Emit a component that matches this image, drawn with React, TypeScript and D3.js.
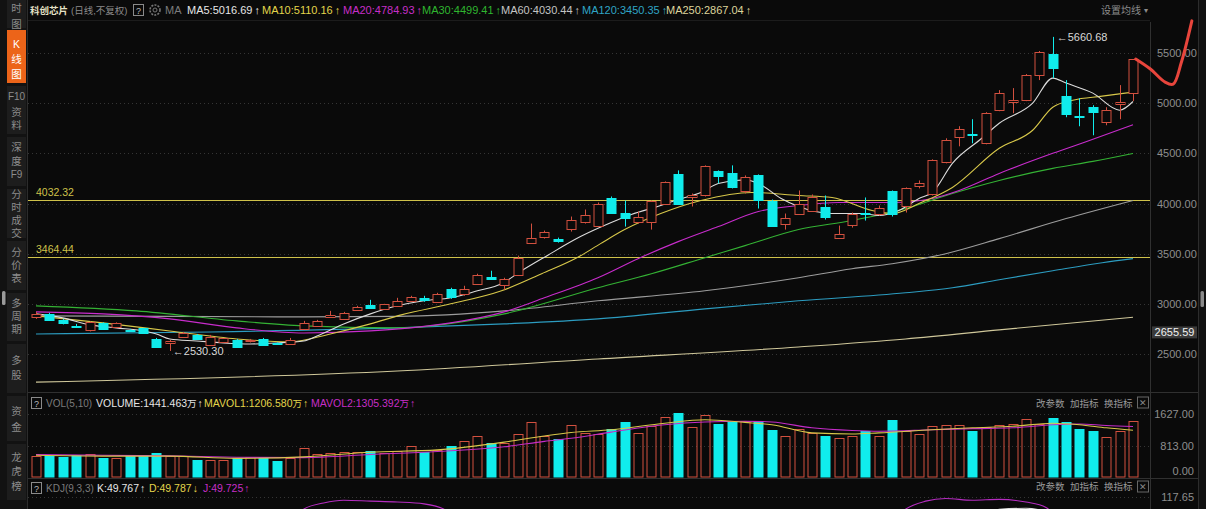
import React from "react";
import * as d3 from "d3";

const WIDTH = 1206;
const HEIGHT = 509;

const stockName = "科创芯片";
const periodNote = "(日线,不复权)";

// daily bars, oldest first
const opens = [
  2870, 2895, 2840, 2780, 2740, 2810, 2770, 2740, 2755, 2650, 2605, 2665, 2690, 2590, 2615, 2640, 2625, 2650, 2610, 2600,
  2750, 2780, 2870, 2850, 2940, 2990, 2950, 2980, 3030, 3060, 3020, 3150, 3100, 3200, 3270, 3190, 3290, 3610, 3670, 3650,
  3750, 3820, 3780, 4050, 3910, 3820, 3820, 4000, 4290, 4060, 4080, 4320, 4300, 4120, 4280, 4020, 3800, 3900, 3930, 3970,
  3660, 3790, 3910, 3900, 4120, 3980, 4170, 4090, 4410, 4660, 4690, 4600, 4930, 5010, 5030, 5280, 5490, 5070, 4870, 4960,
  4810, 4990, 5100,
];
const highs = [
  2920, 2910, 2850, 2800, 2825, 2815, 2815, 2750, 2760, 2660, 2640, 2720, 2700, 2690, 2660, 2650, 2650, 2660, 2615, 2660,
  2830, 2840, 2930, 2920, 2980, 3040, 3000, 3060, 3080, 3080, 3110, 3160, 3180, 3300, 3330, 3260, 3480, 3800, 3730, 3660,
  3870, 3940, 4010, 4070, 4030, 3920, 4030, 4220, 4330, 4100, 4380, 4330, 4380, 4280, 4290, 4040, 3900, 4130, 4090, 4080,
  3780, 3910, 4060, 3980, 4130, 4160, 4230, 4440, 4650, 4770, 4840, 4910, 5130, 5150, 5290, 5520, 5660.68, 5230, 5050, 4980,
  4960, 5180, 5440,
];
const lows = [
  2850, 2830, 2795, 2760, 2725, 2745, 2765, 2720, 2700, 2565, 2530.3, 2660, 2645, 2585, 2610, 2560, 2615, 2580, 2595, 2595,
  2745, 2775, 2865, 2845, 2930, 2955, 2945, 2975, 3025, 3020, 3010, 3050, 3080, 3190, 3240, 3140, 3280, 3600, 3650, 3610,
  3720, 3800, 3770, 3900, 3770, 3800, 3740, 3990, 3990, 3970, 4070, 4200, 4150, 4100, 3950, 3770, 3740, 3890, 3920, 3840,
  3650, 3760, 3830, 3880, 3870, 3910, 4150, 4080, 4400, 4570, 4600, 4590, 4920, 4900, 5020, 5230, 5250, 4860, 4770, 4680,
  4780, 4840, 5020,
];
const closes = [
  2900, 2840, 2805, 2765, 2820, 2750, 2805, 2725, 2705, 2570, 2630, 2710, 2650, 2670, 2655, 2570, 2640, 2590, 2600, 2640,
  2810, 2830, 2890, 2910, 2970, 2960, 2995, 3030, 3070, 3040, 3100, 3070, 3150, 3290, 3250, 3250, 3460, 3660, 3720, 3630,
  3840, 3890, 4000, 3910, 3860, 3870, 4020, 4210, 4000, 4080, 4370, 4270, 4160, 4260, 4030, 3780, 3860, 4000, 4060, 3870,
  3700, 3900, 3895, 3960, 3900, 4150, 4200, 4430, 4630, 4740, 4680, 4900, 5100, 5030, 5280, 5510, 5350, 4890, 4860, 4910,
  4930, 5010, 5440,
];
// volume, 万手
const volumes = [
  540, 540, 510, 560, 600, 500, 500, 540, 580, 620, 540, 540, 450, 450, 450, 500, 510, 500, 410, 500,
  740, 600, 620, 640, 640, 670, 620, 670, 800, 640, 710, 800, 940, 1050, 880, 880, 1110, 1410, 1050, 970,
  1350, 1140, 1100, 1240, 1410, 1140, 1330, 1540, 1650, 1280, 1590, 1370, 1410, 1440, 1440, 1210, 1070, 1250, 1140, 1070,
  1010, 1050, 1180, 1070, 1480, 1180, 1100, 1310, 1350, 1350, 1180, 1280, 1350, 1370, 1510, 1370, 1520, 1420, 1240, 1180,
  1040, 1200, 1441.46,
];

type Knot = [number, number];

// moving averages as [bar index, value]
const ma5: Knot[] = [
  [0, 2900], [2, 2860], [4, 2790], [6, 2760], [8, 2730], [9, 2700], [10, 2650], [12, 2630], [14, 2610], [16, 2600],
  [18, 2610], [20, 2630], [21, 2680], [23, 2800], [25, 2900], [27, 2980], [29, 3030], [31, 3060], [33, 3130], [34.8, 3200],
  [36.3, 3330], [38.2, 3480], [40.7, 3670], [43, 3810], [44.5, 3890], [46.7, 3980], [48, 4040], [49.7, 4110], [51, 4200],
  [53, 4235], [54, 4200], [55.7, 4050], [57, 3970], [59.5, 3900], [61.7, 3900], [63, 3880], [64.5, 3930], [66, 4050],
  [67, 4110], [68.5, 4400], [70.7, 4650], [72, 4800], [74.5, 5000], [76, 5250], [77, 5200], [79, 5100], [81, 4930], [82, 5016.69],
];
const ma10: Knot[] = [
  [0, 2880], [5, 2810], [10, 2730], [15, 2650], [19, 2620], [22, 2700], [25, 2800], [27.3, 2890], [31, 3000], [34.8, 3130],
  [37.8, 3300], [40.5, 3464], [42.2, 3600], [44, 3740], [46.7, 3900], [49.7, 4030], [53.5, 4110], [57, 4080], [59.5, 4060],
  [62.5, 3930], [64, 3900], [66, 4000], [68.5, 4160], [72, 4550], [74.5, 4730], [76, 4960], [77.5, 5030], [79.7, 5070], [82, 5110.16],
];
const ma20: Knot[] = [
  [0, 2920], [5, 2900], [10, 2850], [15, 2760], [20, 2710], [25, 2730], [28, 2760], [31, 2810], [35, 2920], [38, 3060],
  [42, 3260], [45, 3450], [48, 3620], [51, 3770], [54, 3920], [57, 3980], [60, 4010], [64, 4010], [67, 4050], [69, 4130],
  [72, 4300], [76, 4500], [79, 4640], [82, 4784.93],
];
const ma30: Knot[] = [
  [0, 2980], [7.5, 2930], [15, 2830], [20, 2780], [27, 2760], [35, 2900], [42, 3160], [46, 3300], [50, 3460], [53, 3580],
  [57, 3740], [61, 3830], [65, 3950], [68.5, 4100], [72, 4230], [76, 4350], [79, 4420], [82, 4499.41],
];
const ma60: Knot[] = [
  [0, 2880], [10, 2875], [20, 2870], [27, 2875], [35, 2930], [42, 3030], [50, 3130], [57, 3260], [61, 3350], [64, 3400],
  [68, 3500], [72, 3650], [77, 3850], [82, 4030.44],
];
const ma120: Knot[] = [
  [0, 2700], [13, 2720], [27, 2760], [35, 2800], [42, 2850], [50, 2950], [57, 3030], [65, 3110], [68.5, 3160], [72, 3240],
  [76, 3330], [79.7, 3410], [82, 3450.35],
];
const ma250: Knot[] = [
  [0, 2220], [27, 2330], [42, 2450], [57, 2570], [65, 2650], [72, 2740], [82, 2867.04],
];

const mavol1: Knot[] = [
  [0, 560], [5, 540], [10, 540], [15, 480], [20, 520], [25, 640], [30, 700], [35, 900], [38, 1060], [40, 1150], [43, 1220],
  [47, 1390], [50, 1480], [53, 1410], [55, 1350], [58, 1140], [61, 1110], [63, 1140], [67, 1220], [70, 1270], [73, 1310],
  [76, 1390], [78, 1350], [80, 1270], [82, 1206.58],
];
const mavol2: Knot[] = [
  [0, 580], [5, 560], [10, 545], [15, 510], [20, 500], [25, 580], [30, 660], [35, 780], [38, 920], [40, 1000], [43, 1160],
  [47, 1350], [50, 1420], [53, 1440], [55, 1420], [58, 1270], [61, 1200], [63, 1180], [67, 1220], [70, 1250], [73, 1270],
  [76, 1350], [78, 1370], [80, 1330], [82, 1305.39],
];

// KDJ, only the tops of the curves reach into view
const kdjK: Knot[] = [[66, 70], [70, 92], [72, 104], [74, 105], [76, 98], [78, 75], [82, 49.77]];
const kdjJ: Knot[] = [
  [0, 40], [10, 35], [17, 60], [19, 90], [20, 104], [21.5, 111], [23, 114], [25, 113], [27, 112], [29, 110], [30.5, 104],
  [32, 85], [34, 70], [45, 50], [62, 60], [64, 90], [65, 104], [66.5, 113], [68, 116], [70, 114], [72, 115], [74, 112],
  [75.5, 106], [77, 80], [79, 50], [82, 49.73],
];

// hand-drawn forecast stroke beyond the last bar
const forecast: Knot[] = [[82.2, 5440], [83.3, 5340], [84.4, 5210], [85.0, 5190], [85.6, 5400], [86.4, 5820]];

const priceTicks = [5500, 5000, 4500, 4000, 3500, 3000, 2500];
const levelLines = [4032.32, 3464.44];
const lastPrice = 2655.59;
const volTicks = [1627, 813, 0];
const kdjTop = 117.65;
const highMark = { index: 76, value: 5660.68 };
const lowMark = { index: 10, value: 2530.3 };

const maHeader = [
  { label: "MA5:5016.69", color: "#e6e6e6", x: 187, knots: ma5, stroke: "#dcdcdc" },
  { label: "MA10:5110.16", color: "#e3d54a", x: 262, knots: ma10, stroke: "#d8c84a" },
  { label: "MA20:4784.93", color: "#c72ec7", x: 343, knots: ma20, stroke: "#c82ccc" },
  { label: "MA30:4499.41", color: "#2fb52f", x: 422, knots: ma30, stroke: "#34b234" },
  { label: "MA60:4030.44", color: "#c4c4c4", x: 501, knots: ma60, stroke: "#9c9c9c" },
  { label: "MA120:3450.35", color: "#2fa5c5", x: 582, knots: ma120, stroke: "#2c9cc0" },
  { label: "MA250:2867.04", color: "#ddd59c", x: 666, knots: ma250, stroke: "#cfc79a" },
];

const sideTabs = [
  { y0: -12, y1: 28, chars: [["时", 8], ["图", 24]] },
  { y0: 30, y1: 83, chars: [["K", 44], ["线", 59], ["图", 74]], active: true },
  { y0: 86, y1: 134, chars: [["F10", 96], ["资", 112], ["料", 125]] },
  { y0: 137, y1: 186, chars: [["深", 147], ["度", 161], ["F9", 174]] },
  { y0: 189, y1: 238, chars: [["分", 194], ["时", 207], ["成", 220], ["交", 233]] },
  { y0: 241, y1: 290, chars: [["分", 252], ["价", 265], ["表", 278]] },
  { y0: 293, y1: 341, chars: [["多", 303], ["周", 316], ["期", 329]] },
  { y0: 344, y1: 393, chars: [["多", 360], ["股", 375]] },
  { y0: 396, y1: 441, chars: [["资", 411], ["金", 427]] },
  { y0: 444, y1: 500, chars: [["龙", 457], ["虎", 471], ["榜", 486]] },
];

const FONT = "'Liberation Sans', 'Noto Sans CJK SC', sans-serif";
const BG = "#0a0a0a";
const UP = "#d2503f";
const DOWN = "#10ecec";
const GRID = "#353535";
const LEVEL = "#cfc24a";

const PLOT_L = 28;
const PLOT_R = 1150;
const PRICE_TOP = 22;
const PRICE_BOT = 392;
const VOL_BOT = 478;

export default function App() {
  const x = d3.scaleLinear().domain([0, 82]).range([36, 1133]);
  const y = d3.scaleLinear().domain([2500, 5500]).range([354, 53]);
  const vy = d3.scaleLinear().domain([0, 1627]).range([477, 414]);
  const ky = d3.scaleLinear().domain([-20, kdjTop]).range([620, 497]);
  const bw = 9;

  const priceLine = d3
    .line<Knot>()
    .x((d) => x(d[0]))
    .y((d) => y(d[1]))
    .curve(d3.curveMonotoneX);
  const volLine = d3
    .line<Knot>()
    .x((d) => x(d[0]))
    .y((d) => vy(d[1]))
    .curve(d3.curveMonotoneX);
  const kdjLine = d3
    .line<Knot>()
    .x((d) => x(d[0]))
    .y((d) => ky(d[1]))
    .curve(d3.curveMonotoneX);
  const penLine = d3
    .line<Knot>()
    .x((d) => x(d[0]))
    .y((d) => y(d[1]))
    .curve(d3.curveCatmullRom.alpha(0.5));

  const snap = (v: number) => Math.round(v) + 0.5;

  const toolLinks = (ty: number, by: number) => (
    <g fill="#9a9a9a" fontSize={9.5}>
      <text x={1036} y={ty}>改参数</text>
      <text x={1070} y={ty}>加指标</text>
      <text x={1104} y={ty}>换指标</text>
      <rect x={1137.5} y={by} width={11} height={11} fill="none" stroke="#666" />
      <text x={1143} y={by + 9} textAnchor="middle" fontSize={9} fill="#888">✕</text>
    </g>
  );

  const helpBox = (bx: number, by: number) => (
    <g>
      <rect x={bx + 0.5} y={by + 0.5} width={10} height={11} fill="none" stroke="#8a8a8a" />
      <text x={bx + 5.5} y={by + 9.5} textAnchor="middle" fontSize={9} fill="#bbb">?</text>
    </g>
  );

  const lastY = y(lastPrice);

  return (
    <svg
      width={WIDTH}
      height={HEIGHT}
      style={{ position: "fixed", left: 0, top: 0, display: "block", background: BG }}
      fontFamily={FONT}
    >
      <defs>
        <clipPath id="pricePane">
          <rect x={PLOT_L} y={PRICE_TOP} width={PLOT_R - PLOT_L} height={PRICE_BOT - PRICE_TOP} />
        </clipPath>
        <clipPath id="volPane">
          <rect x={PLOT_L} y={410} width={PLOT_R - PLOT_L} height={VOL_BOT - 410} />
        </clipPath>
        <clipPath id="kdjPane">
          <rect x={PLOT_L} y={VOL_BOT + 1} width={PLOT_R - PLOT_L} height={HEIGHT - VOL_BOT} />
        </clipPath>
      </defs>
      <rect width={WIDTH} height={HEIGHT} fill={BG} />

      {/* left navigation strip */}
      <rect x={0} y={0} width={27} height={HEIGHT} fill="#121212" />
      {sideTabs.map((t, i) => (
        <g key={i}>
          <rect x={7} y={t.y0} width={19} height={t.y1 - t.y0} fill={t.active ? "#ec6419" : "#1d1d1d"} />
          {t.chars.map(([c, cy], j) => (
            <text
              key={j}
              x={16.5}
              y={cy as number}
              textAnchor="middle"
              dominantBaseline="central"
              fontSize={String(c).length > 1 ? 10 : 10.5}
              fill={t.active ? "#ffffff" : "#8c8c8c"}
            >
              {c}
            </text>
          ))}
        </g>
      ))}
      <rect x={2} y={291} width={3.5} height={14} rx={1.5} fill="#9a9a9a" />
      <line x1={27.5} x2={27.5} y1={0} y2={HEIGHT} stroke="#2c2c2c" />

      {/* right edge strip */}
      <rect x={1198} y={0} width={8} height={HEIGHT} fill="#111" />
      <line x1={1198.5} x2={1198.5} y1={0} y2={HEIGHT} stroke="#2c2c2c" />
      <rect x={1200.5} y={291} width={3.5} height={16} rx={1.5} fill="#8a8a8a" />

      {/* header */}
      <g fontSize={11}>
        <text x={30} y={14} fill="#e4e1c6" fontWeight={700} fontSize={9.5}>{stockName}</text>
        <text x={71} y={14} fill="#8c8c8c" fontSize={9.5}>{periodNote}</text>
        {helpBox(133, 4)}
        <g stroke="#777" fill="none">
          <circle cx={155} cy={10} r={5} strokeWidth={1.6} strokeDasharray="2 1.2" />
          <circle cx={155} cy={10} r={2} />
        </g>
        <text x={165} y={14} fill="#7c7c7c">MA</text>
        {maHeader.map((m) => (
          <text key={m.label} x={m.x} y={14} fill={m.color}>
            {m.label}
            <tspan dx={2}>↑</tspan>
          </text>
        ))}
        <text x={1101} y={14} fill="#8c8c8c" fontSize={10}>设置均线</text>
        <text x={1144} y={13} fill="#8c8c8c" fontSize={8}>▾</text>
      </g>
      <line x1={PLOT_L} x2={PLOT_R} y1={20.5} y2={20.5} stroke="#1c1c1c" />

      {/* price grid and axis */}
      {priceTicks.map((t) => (
        <g key={t}>
          <line
            x1={PLOT_L}
            x2={PLOT_R}
            y1={snap(y(t))}
            y2={snap(y(t))}
            stroke={GRID}
            strokeDasharray="1 3"
          />
          <text x={1157} y={y(t)} dominantBaseline="central" fontSize={11} fill="#8e8e8e">
            {t.toFixed(2)}
          </text>
        </g>
      ))}
      <rect x={1152} y={lastY - 12} width={45} height={12} fill="#3a3a3a" />
      <text x={1174.5} y={lastY - 6} textAnchor="middle" dominantBaseline="central" fontSize={11} fill="#f0f0f0">
        {lastPrice.toFixed(2)}
      </text>

      {/* horizontal level lines */}
      {levelLines.map((v) => (
        <g key={v}>
          <line x1={PLOT_L} x2={PLOT_R} y1={snap(y(v))} y2={snap(y(v))} stroke={LEVEL} strokeWidth={1} />
          <text x={36} y={y(v) - 4} fontSize={10.5} fill={LEVEL}>
            {v.toFixed(2)}
          </text>
        </g>
      ))}

      {/* moving averages */}
      <g clipPath="url(#pricePane)" fill="none" strokeWidth={1.1}>
        {[...maHeader].reverse().map((m) => (
          <path key={m.label} d={priceLine(m.knots) ?? ""} stroke={m.stroke} />
        ))}
      </g>

      {/* candles */}
      <g clipPath="url(#pricePane)">
        {opens.map((o, i) => {
          const c = closes[i];
          const up = c >= o;
          const color = up ? UP : DOWN;
          const cx = snap(x(i));
          const top = Math.round(y(Math.max(o, c))) + 0.5;
          const bot = Math.round(y(Math.min(o, c))) + 0.5;
          const h = Math.max(1, bot - top);
          return (
            <g key={i}>
              <line x1={cx} x2={cx} y1={y(highs[i])} y2={y(lows[i])} stroke={color} />
              <rect
                x={cx - bw / 2}
                y={top}
                width={bw}
                height={h}
                fill={up ? BG : DOWN}
                stroke={color}
              />
            </g>
          );
        })}
      </g>

      {/* extreme markers */}
      <g fontSize={11} fill="#d8d8d8">
        <text x={x(highMark.index) + 4} y={y(highMark.value)} dominantBaseline="central">
          ←{highMark.value.toFixed(2)}
        </text>
        <text x={x(lowMark.index) + 3} y={y(lowMark.value)} dominantBaseline="central">
          ←{lowMark.value.toFixed(2)}
        </text>
      </g>

      {/* pane separators */}
      <line x1={PLOT_L} x2={1198} y1={PRICE_BOT + 0.5} y2={PRICE_BOT + 0.5} stroke="#303030" />
      <line x1={PLOT_L} x2={1198} y1={VOL_BOT + 0.5} y2={VOL_BOT + 0.5} stroke="#303030" />
      <line x1={PLOT_R + 0.5} x2={PLOT_R + 0.5} y1={PRICE_TOP} y2={HEIGHT} stroke="#303030" />

      {/* volume pane */}
      <g fontSize={10.5}>
        {helpBox(31, 397)}
        <text x={46} y={407} fill="#7c7c7c" fontSize={10}>VOL(5,10)</text>
        <text x={96} y={407} fill="#e6e6e6">VOLUME:1441.463<tspan fontSize={9.5}>万</tspan><tspan dx={1}>↑</tspan></text>
        <text x={204} y={407} fill="#e3d54a">MAVOL1:1206.580<tspan fontSize={9.5}>万</tspan><tspan dx={1}>↑</tspan></text>
        <text x={311} y={407} fill="#c72ec7">MAVOL2:1305.392<tspan fontSize={9.5}>万</tspan><tspan dx={1}>↑</tspan></text>
      </g>
      {toolLinks(407, 397)}
      {volTicks.map((t) => (
        <g key={t}>
          {t > 0 && (
            <line x1={PLOT_L} x2={PLOT_R} y1={snap(vy(t))} y2={snap(vy(t))} stroke={GRID} strokeDasharray="1 3" />
          )}
          <text x={1194} y={Math.min(vy(t), 471)} textAnchor="end" dominantBaseline="central" fontSize={11} fill="#8e8e8e">
            {t.toFixed(2)}
          </text>
        </g>
      ))}
      <g clipPath="url(#volPane)">
        {volumes.map((v, i) => {
          const up = closes[i] >= opens[i];
          const top = Math.round(vy(v)) + 0.5;
          return (
            <rect
              key={i}
              x={snap(x(i)) - bw / 2}
              y={top}
              width={bw}
              height={vy(0) - top}
              fill={up ? "none" : DOWN}
              stroke={up ? UP : DOWN}
            />
          );
        })}
        <path d={volLine(mavol2) ?? ""} fill="none" stroke="#c42cc8" strokeWidth={1.1} />
        <path d={volLine(mavol1) ?? ""} fill="none" stroke="#d8c84a" strokeWidth={1.1} />
      </g>

      {/* KDJ pane */}
      <g fontSize={10.5}>
        {helpBox(31, 482)}
        <text x={46} y={492} fill="#7c7c7c" fontSize={10}>KDJ(9,3,3)</text>
        <text x={97} y={492} fill="#e6e6e6">K:49.767<tspan dx={1}>↑</tspan></text>
        <text x={149} y={492} fill="#e3d54a">D:49.787<tspan dx={1}>↓</tspan></text>
        <text x={203} y={492} fill="#c72ec7">J:49.725<tspan dx={1}>↑</tspan></text>
      </g>
      {toolLinks(490, 481)}
      <line x1={PLOT_L} x2={PLOT_R} y1={snap(ky(kdjTop))} y2={snap(ky(kdjTop))} stroke={GRID} strokeDasharray="1 3" />
      <text x={1194} y={ky(kdjTop)} textAnchor="end" dominantBaseline="central" fontSize={11} fill="#8e8e8e">
        {kdjTop.toFixed(2)}
      </text>
      <g clipPath="url(#kdjPane)" fill="none" strokeWidth={1.1}>
        <path d={kdjLine(kdjK) ?? ""} stroke="#dcdcdc" />
        <path d={kdjLine(kdjJ) ?? ""} stroke="#b52cc0" />
      </g>

      {/* hand-drawn forecast */}
      <path
        d={penLine(forecast) ?? ""}
        fill="none"
        stroke="#e8453c"
        strokeWidth={3}
        strokeLinecap="round"
        strokeLinejoin="round"
      />
    </svg>
  );
}
